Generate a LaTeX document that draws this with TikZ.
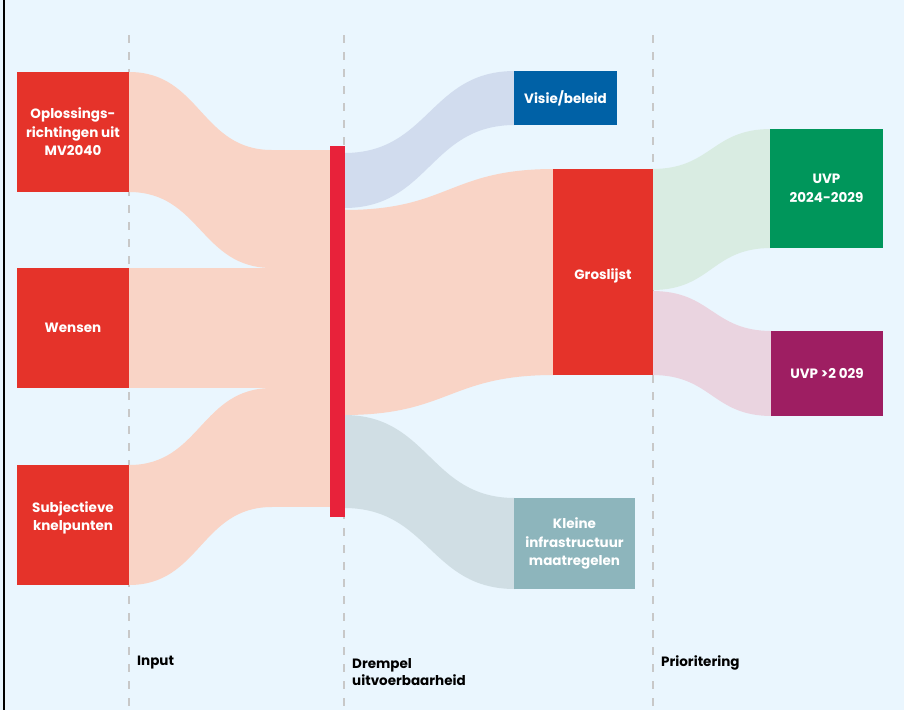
\documentclass[tikz,border=0pt]{standalone}
\usepackage{fontspec}
\setmainfont{Poppins}
\definecolor{bg}{HTML}{EAF6FE}
\definecolor{peach}{HTML}{F9D4C6}
\definecolor{nred}{HTML}{E5332A}
\definecolor{barred}{HTML}{E8223A}
\definecolor{visieband}{HTML}{D1DCEE}
\definecolor{visie}{HTML}{0061A6}
\definecolor{greenband}{HTML}{D9ECE2}
\definecolor{ngreen}{HTML}{00965B}
\definecolor{pinkband}{HTML}{EAD4E0}
\definecolor{npurple}{HTML}{9E1E62}
\definecolor{kleineband}{HTML}{D0DEE4}
\definecolor{kleine}{HTML}{8DB5BC}
\definecolor{dashgray}{HTML}{C8C8C8}
\newcommand{\sband}[7]{%
  \pgfmathsetmacro\xm{(#1+#4)/2}%
  \fill[#7] (#1,#2) .. controls (\xm,#2) and (\xm,#5) .. (#4,#5) -- (#4,#6) .. controls (\xm,#6) and (\xm,#3) .. (#1,#3) -- cycle;}
\begin{document}
\begin{tikzpicture}[x=1pt,y=-1pt,
  box/.style={draw=none, inner sep=0pt, text=white, align=center,
    font=\fontsize{13.5}{18.5}\selectfont\bfseries},
  phase/.style={anchor=west, align=left, text=black, inner sep=0pt,
    font=\fontsize{13.5}{17.5}\selectfont\bfseries},
  guide/.style={dashgray, line width=2.5pt, dash pattern=on 8pt off 9pt}]
\useasboundingbox (0,0) rectangle (904,710);
\fill[bg] (0,0) rectangle (904,710);
\draw[black, line width=2pt] (3.5,0) -- (3.5,710);
% guides
\coordinate (g1t) at (129,35); \coordinate (g1b) at (129,710);
\coordinate (g2t) at (344,35); \coordinate (g2b) at (344,710);
\coordinate (g3t) at (653,35); \coordinate (g3b) at (653,710);
\draw[guide] (g1t) -- (g1b);
\draw[guide] (g2t) -- (g2b);
\draw[guide] (g3t) -- (g3b);
% bands into threshold
\sband{129}{72}{192}{272}{150}{268}{peach}
\fill[peach] (271,150) rectangle (331,268);
\fill[peach] (129,268) rectangle (331,388);
\sband{129}{465}{585}{272}{388}{507}{peach}
\fill[peach] (271,388) rectangle (331,507);
% bands out of threshold
\sband{344}{153}{208}{515}{71}{125}{visieband}
\sband{344}{210}{415}{554}{169}{375}{peach}
\sband{344}{415}{508}{515}{498}{589}{kleineband}
% bands out of Groslijst
\sband{652}{169}{290}{771}{129}{248}{greenband}
\sband{652}{291}{375}{772}{331}{416}{pinkband}
% nodes
\node[box, fill=nred, minimum width=112pt, minimum height=120pt] (opl) at (73,132) {Oplossings-\\richtingen uit\\MV2040};
\node[box, fill=nred, minimum width=112pt, minimum height=120pt] (wensen) at (73,328) {Wensen};
\node[box, fill=nred, minimum width=112pt, minimum height=120pt] (subj) at (73,525) {};
\node[box] (subjlabel) at (73,518) {Subjectieve\\knelpunten};
\node[draw=none, fill=barred, minimum width=15pt, minimum height=371pt, inner sep=0pt] (drempel) at (337.5,331.5) {};
\node[box, fill=visie, minimum width=103pt, minimum height=54pt] (visiebox) at (565.5,98) {Visie/beleid};
\node[box, fill=nred, minimum width=100pt, minimum height=206pt] (gros) at (603,272) {};
\node[box] (groslabel) at (603,276) {Groslijst};
\node[box, fill=ngreen, minimum width=113pt, minimum height=119pt] (uvp1) at (826.5,188.5) {UVP\\2024-2029};
\node[box, fill=npurple, minimum width=112pt, minimum height=85pt] (uvp2) at (827,373.5) {UVP >2 029};
\node[box, fill=kleine, minimum width=121pt, minimum height=91pt] (kleinebox) at (574.5,543.5) {Kleine\\infrastructuur\\maatregelen};
% phase labels
\node[phase] (input) at (137,663) {Input};
\node[phase] (drem) at (352,672) {Drempel\\uitvoerbaarheid};
\node[phase] (prio) at (661,663) {Prioritering};
\end{tikzpicture}
\end{document}
